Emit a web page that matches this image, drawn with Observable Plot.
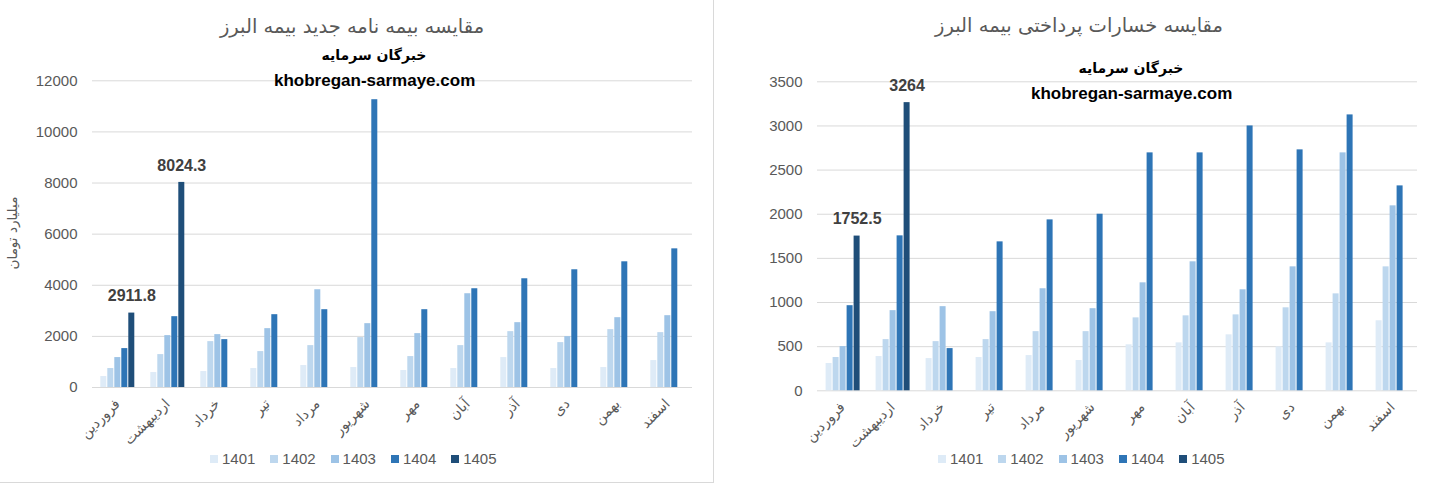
<!DOCTYPE html>
<html>
<head>
<meta charset="utf-8">
<script src="https://cdn.jsdelivr.net/npm/d3@7"></script>
<script src="https://cdn.jsdelivr.net/npm/@observablehq/plot@0.6"></script>
<style>
  html, body { margin: 0; padding: 0; background: #fff; }
  body { width: 1436px; height: 485px; position: relative; overflow: hidden; }
  .panel { position: absolute; top: 0; }
  .panel svg { position: absolute; left: 0; top: 0; overflow: visible; }
  .title { position: absolute; left: 0; text-align: center; color: #595959; font-family: "DejaVu Sans", sans-serif; font-size: 19.5px; line-height: 26px; white-space: nowrap; }
  .wm { position: absolute; text-align: center; color: #000; font-weight: bold; white-space: nowrap; }
  .wm.fa { font-family: "DejaVu Sans", sans-serif; font-size: 14px; line-height: 18px; }
  .wm.en { font-family: "Liberation Sans", Arial, sans-serif; font-size: 17px; line-height: 20px; }
  .legend { position: absolute; display: flex; align-items: center; font-family: "Liberation Sans", Arial, sans-serif; font-size: 15px; color: #595959; }
  .legend .item { display: flex; align-items: center; width: 60.3px; }
  .legend .sw { width: 8px; height: 8px; margin-right: 4px; }
  .ylab { position: absolute; color: #595959; font-family: "DejaVu Sans", sans-serif; font-size: 13.5px; white-space: nowrap; transform: translate(-50%, -50%) rotate(-90deg); }
</style>
</head>
<body>
<div id="left" class="panel" style="left:0;width:713px;height:482px;border-right:1px solid #d9d9d9;border-bottom:1px solid #d9d9d9;"></div>
<div id="right" class="panel" style="left:714px;width:722px;height:485px;"></div>
<script>
// ---- data ----
const months = ["فروردین","اردیبهشت","خرداد","تیر","مرداد","شهریور","مهر","آبان","آذر","دی","بهمن","اسفند"];
const years = ["1401","1402","1403","1404","1405"];
const yearColors = ["#deebf7","#bdd7ee","#9dc3e6","#2e75b6","#1f4e79"];

// new policies (billion toman)
const policies1401 = [429, 585, 624, 742, 859, 781, 664, 742, 1171, 742, 781, 1054];
const policies1402 = [742, 1288, 1795, 1405, 1639, 1952, 1210, 1639, 2186, 1756, 2264, 2147];
const policies1403 = [1171, 2030, 2069, 2303, 3825, 2498, 2108, 3669, 2537, 1991, 2732, 2810];
const policies1404 = [1522, 2771, 1873, 2849, 3044, 11260, 3044, 3864, 4254, 4606, 4918, 5425];
const policies1405 = [2911.8, 8024.3, null, null, null, null, null, null, null, null, null, null];
const policyTicks = [0, 2000, 4000, 6000, 8000, 10000, 12000];

// paid claims
const claims1401 = [309, 388, 365, 377, 399, 343, 521, 543, 634, 498, 543, 793];
const claims1402 = [377, 580, 557, 580, 670, 670, 826, 849, 860, 940, 1098, 1404];
const claims1403 = [501, 908, 953, 896, 1156, 930, 1223, 1461, 1144, 1404, 2695, 2095];
const claims1404 = [964, 1755, 478, 1687, 1936, 2000, 2695, 2695, 3000, 2729, 3125, 2321];
const claims1405 = [1752.5, 3264, null, null, null, null, null, null, null, null, null, null];
const claimTicks = [0, 500, 1000, 1500, 2000, 2500, 3000, 3500];

const texts = {
  leftTitle: "مقایسه بیمه نامه جدید بیمه البرز",
  rightTitle: "مقایسه خسارات پرداختی بیمه البرز",
  yLabel: "میلیارد تومان",
  wmFa: "خبرگان سرمایه",
  wmEn: "khobregan-sarmaye.com"
};

function toRows(series) {
  const rows = [];
  series.forEach((vals, i) => vals.forEach((v, j) => {
    if (v != null) rows.push({month: months[j], year: years[i], value: v});
  }));
  return rows;
}

const numFont = '"Liberation Sans", Arial, sans-serif';
const faFont = '"DejaVu Sans", sans-serif';

function makeChart({rows, ticks, width, height, marginLeft, marginRight, marginTop, marginBottom}) {
  return Plot.plot({
    width, height, marginLeft, marginRight, marginTop, marginBottom,
    style: {background: "transparent", overflow: "visible"},
    fx: {domain: months, paddingInner: 0, paddingOuter: 0, label: null},
    x: {domain: years, paddingInner: 0.19, paddingOuter: 0.89, axis: null},
    y: {domain: [0, ticks[ticks.length - 1]], label: null},
    color: {domain: years, range: yearColors},
    marks: [
      Plot.gridY(ticks, {stroke: "#d9d9d9", strokeOpacity: 1, strokeWidth: 1}),
      Plot.barY(rows, {fx: "month", x: "year", y: "value", fill: "year"}),
      Plot.text(rows.filter(d => d.year === "1405"), {
        fx: "month", x: "year", y: "value", text: d => String(d.value),
        dy: -17, fontWeight: "bold", fontSize: 16, fill: "#404040", fontFamily: numFont
      }),
      Plot.axisY(ticks, {tickSize: 0, tickPadding: 15, fontSize: 15, fill: "#595959", fontFamily: numFont, label: null, tickFormat: d => String(d)}),
      Plot.axisFx({anchor: "bottom", tickRotate: -45, tickSize: 0, tickPadding: 14, fontSize: 14, fill: "#595959", fontFamily: faFont, label: null})
    ]
  });
}

function addLegend(panel, left, top) {
  const lg = document.createElement("div");
  lg.className = "legend";
  lg.style.left = left + "px";
  lg.style.top = top + "px";
  years.forEach((y, i) => {
    const it = document.createElement("div");
    it.className = "item";
    const sw = document.createElement("span");
    sw.className = "sw";
    sw.style.background = yearColors[i];
    const tx = document.createElement("span");
    tx.textContent = y;
    it.appendChild(sw); it.appendChild(tx);
    lg.appendChild(it);
  });
  panel.appendChild(lg);
}

function addDiv(panel, cls, text, css) {
  const d = document.createElement("div");
  d.className = cls;
  d.textContent = text;
  Object.assign(d.style, css);
  panel.appendChild(d);
  return d;
}

// ---- left chart ----
const left = document.getElementById("left");
left.appendChild(makeChart({
  rows: toRows([policies1401, policies1402, policies1403, policies1404, policies1405]),
  ticks: policyTicks, width: 713, height: 482,
  marginLeft: 86.7, marginRight: 15.7, marginTop: 80.3, marginBottom: 95
}));
addDiv(left, "title", texts.leftTitle, {top: "14px", width: "704px"});
addDiv(left, "wm fa", texts.wmFa, {top: "46px", left: "274px", width: "200px"});
addDiv(left, "wm en", texts.wmEn, {top: "71px", left: "274px", width: "200px"});
addDiv(left, "ylab", texts.yLabel, {left: "12px", top: "233px"});
addLegend(left, 210, 450);

// ---- right chart ----
const right = document.getElementById("right");
right.appendChild(makeChart({
  rows: toRows([claims1401, claims1402, claims1403, claims1404, claims1405]),
  ticks: claimTicks, width: 722, height: 485,
  marginLeft: 98.4, marginRight: 14.3, marginTop: 81.3, marginBottom: 94.7
}));
addDiv(right, "title", texts.rightTitle, {top: "13px", width: "730px"});
addDiv(right, "wm fa", texts.wmFa, {top: "59px", left: "317px", width: "200px"});
addDiv(right, "wm en", texts.wmEn, {top: "84px", left: "317px", width: "200px"});
addLegend(right, 224, 450);
</script>
</body>
</html>
